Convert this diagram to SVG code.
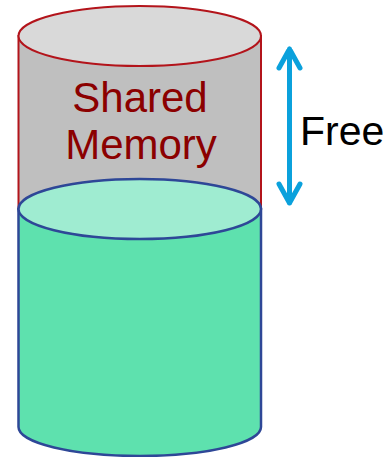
<svg xmlns="http://www.w3.org/2000/svg" width="391" height="457" viewBox="0 0 391 457">
  <style>
    .shared-body { fill: #bfbfbf; stroke: #b3141b; stroke-width: 2; }
    .shared-top { fill: #d9d9d9; stroke: #b3141b; stroke-width: 2; }
    .used-body { fill: #5ee1ae; stroke: #2e4797; stroke-width: 2.5; }
    .used-top { fill: #9fecd1; stroke: #2e4797; stroke-width: 2.5; }
    .label { font-family: "Liberation Sans", Arial, sans-serif; font-size: 41px; }
    .big { font-size: 42px; }
    .arrow { fill: none; stroke: #0ba1dc; stroke-width: 5; stroke-linecap: round; stroke-linejoin: round; }
  </style>

  <!-- upper (free) part of the memory cylinder -->
  <g id="shared-memory">
    <path class="shared-body" d="M18.5,36 L18.5,209 L261,209 L261,36 Z"/>
    <ellipse class="shared-top" cx="139.75" cy="36" rx="121.25" ry="30"/>
    <text class="label big" fill="#8b0000" text-anchor="middle" x="140" y="112">Shared</text>
    <text class="label big" fill="#8b0000" text-anchor="middle" x="141" y="159">Memory</text>
  </g>

  <!-- lower (used) part of the memory cylinder -->
  <g id="used-memory">
    <path class="used-body" d="M18.5,209 L18.5,427 A121.25,29 0 0 0 261,427 L261,209 Z"/>
    <ellipse class="used-top" cx="139.75" cy="209" rx="121.25" ry="30"/>
  </g>

  <!-- free-space indicator -->
  <g id="connectors">
    <path class="arrow" d="M289.5,49 L289.5,203 M279,68 L289.5,49 L300,68 M279,184 L289.5,203 L300,184"/>
  </g>
  <g id="free-label">
    <text class="label" fill="#000000" x="300" y="145">Free</text>
  </g>
</svg>
